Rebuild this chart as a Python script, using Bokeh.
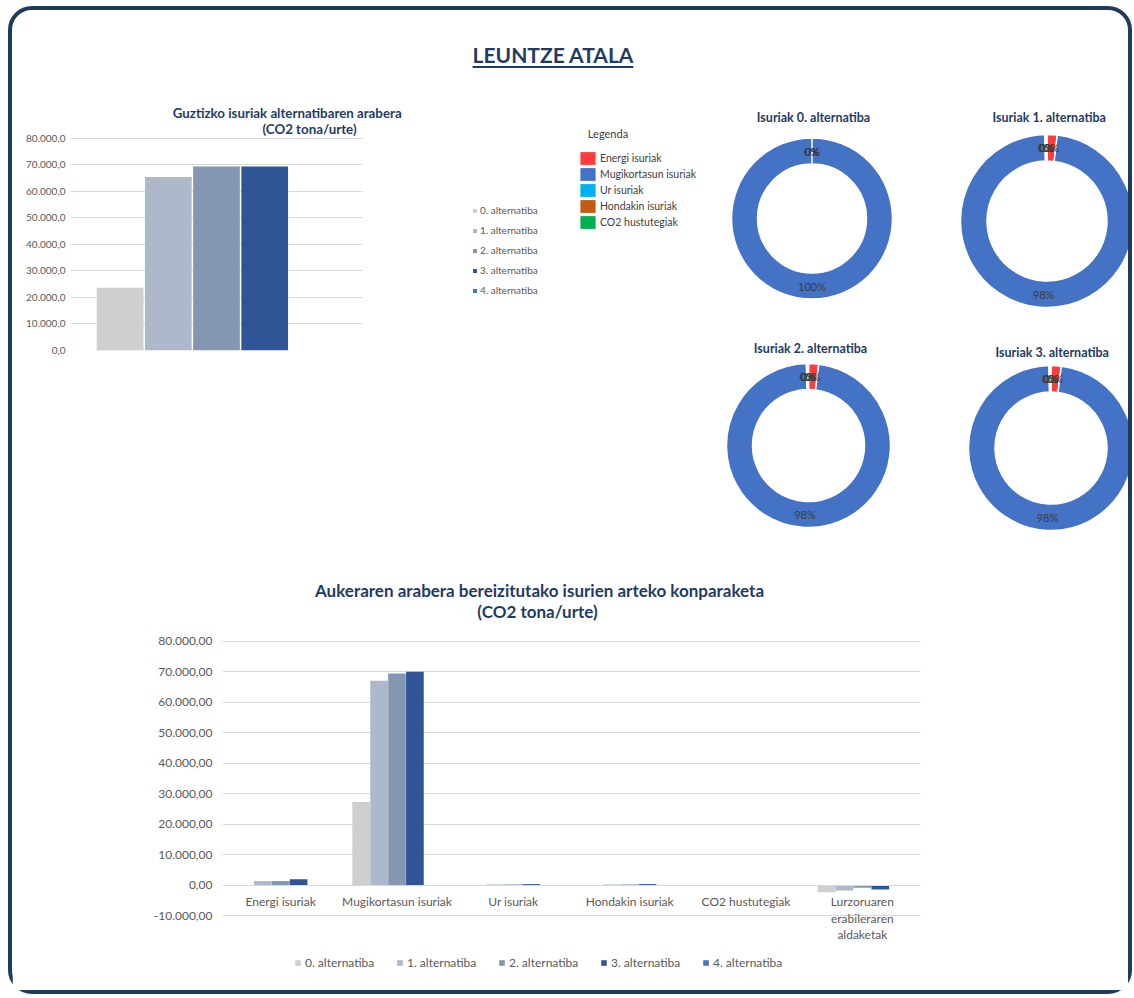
import math
from bokeh.plotting import figure
from bokeh.models import (ColumnDataSource, Range1d, FactorRange, Label, Legend, LegendItem,
                          CustomJSTickFormatter, FixedTicker, Div)
from bokeh.layouts import row, column
from bokeh.transform import dodge
from bokeh.core.properties import value
from bokeh.embed import file_html
from bokeh.resources import INLINE

FONT = "Lato"
NAVY = "#1f3b64"
TXT = "#595959"
GRID = "#d9d9d9"

# ---------------- data ----------------
alternatives = ["0. alternatiba", "1. alternatiba", "2. alternatiba", "3. alternatiba", "4. alternatiba"]
alt_colors = ["#d0cece", "#adb9ca", "#8497b0", "#2f5597", "#4472c4"]

# total emissions per alternative (CO2 tona/urte)
total_group = ["Guztira"]
total_emissions = [23600, 65400, 69300, 69300, 0]
total_ticks = [0, 10000, 20000, 30000, 40000, 50000, 60000, 70000, 80000]

# emissions by type and alternative (CO2 tona/urte)
categories = ["Energi isuriak", "Mugikortasun isuriak", "Ur isuriak", "Hondakin isuriak",
              "CO2 hustutegiak", "Lurzoruaren\nerabileraren\naldaketak"]
alt0_values = [0, 27200, 0, 0, 0, -2400]
alt1_values = [1300, 67000, 200, 200, 0, -1800]
alt2_values = [1300, 69400, 200, 200, 0, -900]
alt3_values = [1900, 70000, 300, 300, 0, -1500]
alt4_values = [0, 0, 0, 0, 0, 0]
series_values = [alt0_values, alt1_values, alt2_values, alt3_values, alt4_values]
compare_ticks = [-10000, 0, 10000, 20000, 30000, 40000, 50000, 60000, 70000, 80000]

# donut shares (%) per alternative
donut_categories = ["Energi isuriak", "Mugikortasun isuriak", "Ur isuriak", "Hondakin isuriak", "CO2 hustutegiak"]
donut_colors = ["#ff3b3b", "#4472c4", "#00b0f0", "#c55a11", "#00b050"]
donut_alt0 = [0.0, 100.0, 0.0, 0.0, 0.0]
donut_alt1 = [1.9, 97.7, 0.2, 0.2, 0.0]
donut_alt2 = [2.0, 97.6, 0.2, 0.2, 0.0]
donut_alt3 = [2.0, 97.6, 0.2, 0.2, 0.0]
donut_titles = ["Isuriak 0. alternatiba", "Isuriak 1. alternatiba",
                "Isuriak 2. alternatiba", "Isuriak 3. alternatiba"]


def fmt(decimals):
    return CustomJSTickFormatter(code="""
        const s = Math.abs(tick).toFixed(%d);
        const parts = s.split('.');
        const i = parts[0].replace(/\\B(?=(\\d{3})+(?!\\d))/g, '.');
        const out = parts.length > 1 ? i + ',' + parts[1] : i;
        return (tick < 0 ? '-' : '') + out;
    """ % decimals)


# ---------------- header ----------------
header = Div(width=1116, height=85, margin=0, text=(
    '<div style="position:relative; left:-17px; top:30px; width:1116px; text-align:center; '
    'font-family:Lato; font-weight:bold; font-size:21px; color:%s; '
    'text-decoration:underline; text-decoration-thickness:2px; text-underline-offset:3px;">'
    'LEUNTZE ATALA</div>' % NAVY))

# ---------------- top-left bar chart ----------------
# canvas: page x 12..572, y 95..565 ; plot area: x 70..362, y 137.7..350
FB_W, FB_H = 560, 470
FB_PLOT_W, FB_PLOT_H = 292.0, 212.3
fb_ymax = total_ticks[-1] * (350 - 95) / FB_PLOT_H
fb = figure(width=FB_W, height=FB_H, x_range=Range1d(0, (572 - 70) / FB_PLOT_W),
            y_range=Range1d(0, fb_ymax), x_axis_location=None,
            output_backend="svg", toolbar_location=None,
            min_border_left=58, min_border_right=0, min_border_top=0, min_border_bottom=215)
fb.outline_line_color = None
fb.xgrid.grid_line_color = None
fb.ygrid.grid_line_color = GRID
fb.ygrid.cross_bounds = (0, 1)
fb.yaxis.ticker = FixedTicker(ticks=total_ticks)
fb.yaxis.formatter = fmt(1)
fb.yaxis.axis_line_color = None
fb.yaxis.major_tick_line_color = None
fb.yaxis.minor_tick_line_color = None
fb.yaxis.major_tick_out = 0
fb.yaxis.major_label_standoff = 5
fb.yaxis.major_label_text_font = FONT
fb.yaxis.major_label_text_font_size = "10px"
fb.yaxis.major_label_text_color = TXT

fb_items = []
for i, alt in enumerate(alternatives):
    src = ColumnDataSource(dict(x=[0.5], grp=total_group, top=[total_emissions[i]]))
    r = fb.vbar(x=dodge("x", (i - 2) * 0.165), top="top", width=0.16,
                source=src, fill_color=alt_colors[i], line_color=None)
    fb_items.append(LegendItem(label=alt, renderers=[r]))

fb_leg = Legend(items=fb_items, location=(402, 50), orientation="vertical",
                glyph_width=5, glyph_height=5, label_height=20, spacing=0, padding=0, margin=0,
                label_standoff=3, label_text_font=FONT, label_text_font_size="10px",
                label_text_color=TXT, border_line_color=None, background_fill_alpha=0)
fb.add_layout(fb_leg)

fb.add_layout(Label(x=216.7, y=350 - 112, x_units="screen", y_units="screen",
                    text="Guztizko isuriak alternatibaren arabera", text_align="center",
                    text_baseline="middle", text_font=FONT, text_font_style="bold",
                    text_font_size="13.3px", text_color=NAVY))
fb.add_layout(Label(x=239, y=350 - 128.5, x_units="screen", y_units="screen",
                    text="(CO2 tona/urte)", text_align="center",
                    text_baseline="middle", text_font=FONT, text_font_style="bold",
                    text_font_size="13.3px", text_color=NAVY))


# ---------------- donuts ----------------
def donut(left, top, w, h, cx, cy, r_in, r_out, shares, title, tx, ty, with_legend=False):
    p = figure(width=w, height=h,
               x_range=Range1d(left - cx, left + w - cx),
               y_range=Range1d(cy - (top + h), cy - top),
               x_axis_type=None, y_axis_type=None, min_border=0,
               output_backend="svg", toolbar_location=None)
    p.outline_line_color = None
    starts, ends, mids = [], [], []
    cum = 0.0
    for s in shares:
        a0 = math.pi / 2 - 2 * math.pi * cum / 100.0
        a1 = math.pi / 2 - 2 * math.pi * (cum + s) / 100.0
        starts.append(a0)
        ends.append(a1)
        mids.append((a0 + a1) / 2)
        cum += s
    nz = [i for i, s in enumerate(shares) if s > 0]
    wsrc = ColumnDataSource(dict(cat=[donut_categories[i] for i in nz],
                                 color=[donut_colors[i] for i in nz],
                                 start=[starts[i] for i in nz], end=[ends[i] for i in nz]))
    p.annular_wedge(x=0, y=0, inner_radius=r_in, outer_radius=r_out,
                    inner_radius_units="screen", outer_radius_units="screen",
                    start_angle="start", end_angle="end", direction="clock",
                    fill_color="color", line_color="white", line_width=1.5, source=wsrc)
    rm = (r_in + r_out) / 2
    lsrc = ColumnDataSource(dict(x=[rm * math.cos(m) for m in mids],
                                 y=[rm * math.sin(m) for m in mids],
                                 t=["%d%%" % round(s) for s in shares]))
    p.text(x="x", y="y", text="t", source=lsrc, text_align="center", text_baseline="middle",
           text_font=value(FONT), text_font_size="11px", text_color="#3a3a3a")
    p.add_layout(Label(x=tx - left, y=top + h - ty, x_units="screen", y_units="screen",
                       text=title, text_align="center", text_baseline="middle",
                       text_font=FONT, text_font_style="bold", text_font_size="12.5px",
                       text_color=NAVY))
    if with_legend:
        fsrc = ColumnDataSource(dict(cat=donut_categories, color=donut_colors,
                                     start=starts, end=ends))
        p.annular_wedge(x=0, y=0, inner_radius=r_in, outer_radius=r_out,
                        inner_radius_units="screen", outer_radius_units="screen",
                        start_angle="start", end_angle="end", direction="clock",
                        fill_color="color", line_color=None, source=fsrc,
                        legend_field="cat", visible=False)
        lg = p.legend[0]
        lg.location = (6, 100)
        lg.glyph_width = 19
        lg.glyph_height = 16
        lg.label_height = 16
        lg.spacing = 0
        lg.padding = 0
        lg.margin = 0
        lg.label_standoff = 3
        lg.label_text_font = FONT
        lg.label_text_font_size = "10.5px"
        lg.label_text_color = "#404040"
        lg.border_line_color = None
        lg.background_fill_alpha = 0
        p.add_layout(Label(x=607.5 - left, y=top + h - 133, x_units="screen", y_units="screen",
                           text="Legenda", text_align="center", text_baseline="middle",
                           text_font=FONT, text_font_size="11px", text_color="#404040"))
    return p


d0 = donut(572, 95, 350, 235, 811.5, 218, 54.5, 80.5, donut_alt0, donut_titles[0], 813, 117, True)
d1 = donut(922, 95, 206, 235, 1046.5, 220.5, 60, 86.5, donut_alt1, donut_titles[1], 1048.7, 117)
d2 = donut(572, 330, 350, 235, 808, 445, 56, 82, donut_alt2, donut_titles[2], 810, 348)
d3 = donut(922, 330, 206, 235, 1050.5, 447.5, 56, 82.5, donut_alt3, donut_titles[3], 1051.7, 351.5)

# ---------------- bottom chart ----------------
# canvas: page x 12..1128, y 565..990 ; plot area: x 222..920, y 640.7 (80k)..915 (-10k)
FC_W, FC_H = 1116, 425
px_per_unit = (915 - 640.7) / (compare_ticks[-1] - compare_ticks[0])
fc_ymax = compare_ticks[-1] + (640.7 - 565) / px_per_unit
fc_ymin = compare_ticks[0] - (990 - 915) / px_per_unit
fc = figure(width=FC_W, height=FC_H, x_range=FactorRange(factors=categories),
            y_range=Range1d(fc_ymin, fc_ymax),
            output_backend="svg", toolbar_location=None,
            min_border_left=210, min_border_right=208, min_border_top=0, min_border_bottom=0)
fc.outline_line_color = None
fc.xgrid.grid_line_color = None
fc.ygrid.grid_line_color = GRID
fc.yaxis.ticker = FixedTicker(ticks=compare_ticks)
fc.yaxis.formatter = fmt(2)
fc.yaxis.axis_line_color = None
fc.yaxis.major_tick_line_color = None
fc.yaxis.minor_tick_line_color = None
fc.yaxis.major_tick_out = 0
fc.yaxis.major_label_standoff = 10
fc.yaxis.major_label_text_font = FONT
fc.yaxis.major_label_text_font_size = "12px"
fc.yaxis.major_label_text_color = TXT
fc.xaxis.fixed_location = 0
fc.xaxis.axis_line_color = GRID
fc.xaxis.major_tick_line_color = None
fc.xaxis.minor_tick_line_color = None
fc.xaxis.major_tick_out = 0
fc.xaxis.minor_tick_out = 0
fc.xaxis.major_label_standoff = 9
fc.xaxis.major_label_text_font = FONT
fc.xaxis.major_label_text_font_size = "12px"
fc.xaxis.major_label_text_color = TXT
fc.xaxis.major_label_text_line_height = 1.1

fc_items = []
for i, alt in enumerate(alternatives):
    src = ColumnDataSource(dict(cat=categories, top=series_values[i]))
    r = fc.vbar(x=dodge("cat", (i - 2) * 0.154, range=fc.x_range), top="top", bottom=0,
                width=0.152, source=src, fill_color=alt_colors[i], line_color=None)
    fc_items.append(LegendItem(label=alt, renderers=[r]))

fc_leg = Legend(items=fc_items, location=(72, 990 - 970), orientation="horizontal",
                glyph_width=7, glyph_height=7, label_height=14, label_width=88, spacing=3,
                padding=0, margin=0, label_standoff=4, label_text_font=FONT,
                label_text_font_size="12px", label_text_color=TXT,
                border_line_color=None, background_fill_alpha=0)
fc.add_layout(fc_leg)

fc.add_layout(Label(x=539 - 222, y=990 - 590, x_units="screen", y_units="screen",
                    text="Aukeraren arabera bereizitutako isurien arteko konparaketa",
                    text_align="center", text_baseline="middle", text_font=FONT,
                    text_font_style="bold", text_font_size="17px", text_color=NAVY))
fc.add_layout(Label(x=537 - 222, y=990 - 611, x_units="screen", y_units="screen",
                    text="(CO2 tona/urte)",
                    text_align="center", text_baseline="middle", text_font=FONT,
                    text_font_style="bold", text_font_size="17px", text_color=NAVY))

# ---------------- layout ----------------
right_block = column(row(d0, d1), row(d2, d3))
layout = column(header, row(fb, right_block), fc, margin=(6, 0, 0, 8),
                styles={"border": "4px solid #1f3a5a", "border-radius": "24px",
                        "background-color": "white"})

open("out.html", "w").write(file_html(layout, INLINE))
